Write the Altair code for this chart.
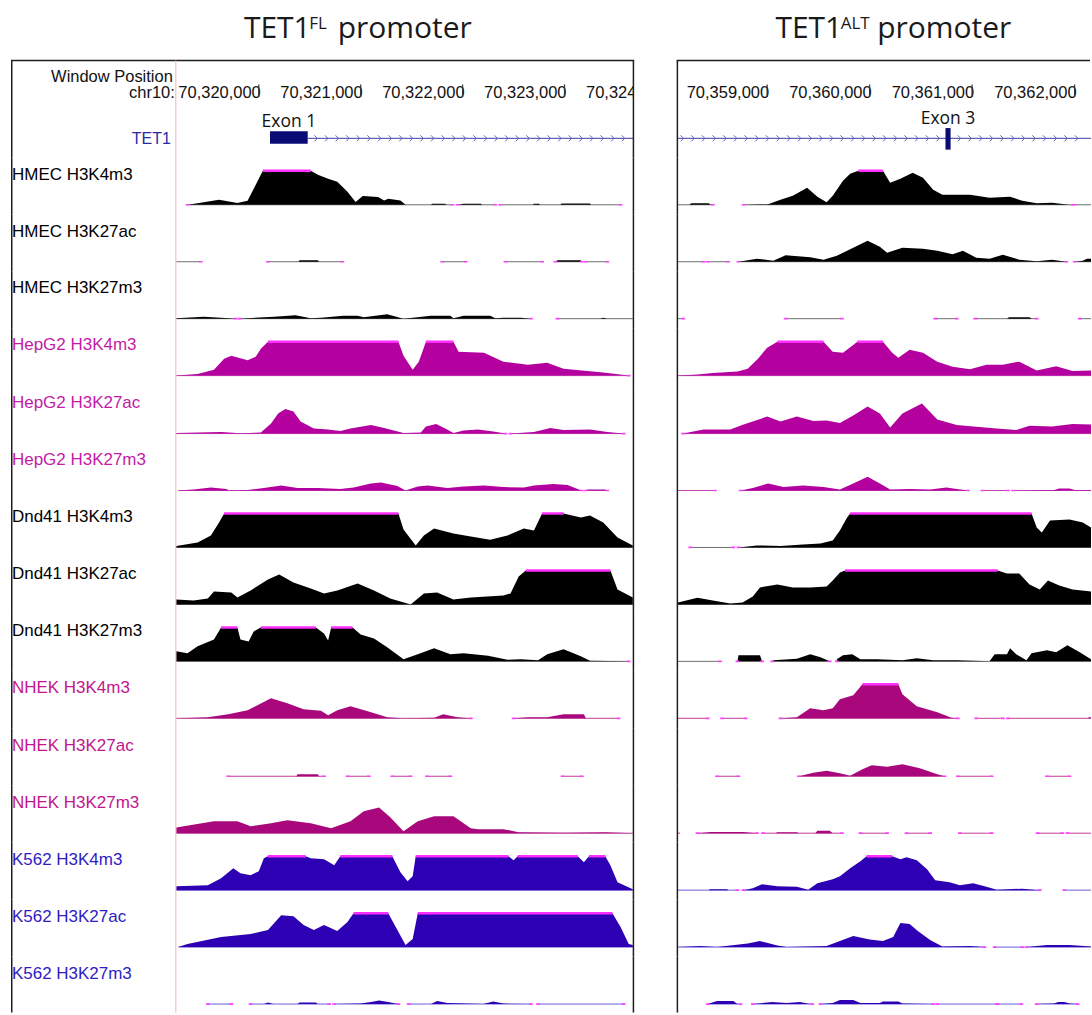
import altair as alt
import pandas as pd

# ---------------- data ----------------
FL_BASE = 70320000
ALT_BASE = 70359000
FL_DOMAIN_KB = [-0.814, 3.676]
ALT_DOMAIN_KB = [-0.876, 3.16]
FL_TICKS = [70320000, 70321000, 70322000, 70323000, 70324000]
ALT_TICKS = [70359000, 70360000, 70361000, 70362000]
FL_EXON = [70320110, 70320480]
ALT_EXON = [70360740, 70360790]
FL_EXON_NAME = "Exon 1"
ALT_EXON_NAME = "Exon 3"
GENE_NAME = "TET1"
CHROM = "chr10:"

TRACK_NAMES = ["HMEC H3K4m3", "HMEC H3K27ac", "HMEC H3K27m3",
               "HepG2 H3K4m3", "HepG2 H3K27ac", "HepG2 H3K27m3",
               "Dnd41 H3K4m3", "Dnd41 H3K27ac", "Dnd41 H3K27m3",
               "NHEK H3K4m3", "NHEK H3K27ac", "NHEK H3K27m3",
               "K562 H3K4m3", "K562 H3K27ac", "K562 H3K27m3"]

CLIP = 34  # signal level at which the UCSC track saturates

# TET1-FL promoter window: segments of (kb from 70,320,000, signal)
FL_HMEC_K4 = [
    [(-0.70, 0), (-0.57, 2), (-0.39, 5), (-0.21, 1.7), (-0.11, 4), (-0.01, 24), (0.04, 34), (0.51, 34), (0.58, 30),
     (0.68, 26), (0.77, 23), (0.87, 13), (0.95, 2.7), (1.02, 8.7), (1.17, 7.7), (1.23, 4.3), (1.27, 6), (1.39, 4.3),
     (1.44, 0), (1.69, 0), (1.70, 1), (1.83, 1), (1.84, 0), (1.90, 0)],
    [(1.95, 0), (2.01, 1), (2.18, 1), (2.19, 0), (2.32, 0)],
    [(2.37, 0), (2.69, 0), (2.70, 1), (2.75, 1), (2.76, 0), (2.96, 0), (2.97, 1.3), (3.25, 1.3), (3.26, 0), (3.55, 0)],
]
FL_HMEC_K27AC = [
    [(-0.81, 0), (-0.57, 0)],
    [(0.09, 0), (0.39, 0), (0.40, 1.5), (0.58, 1.5), (0.59, 0), (0.82, 0)],
    [(1.80, 0), (2.03, 0)],
    [(2.42, 0), (2.78, 0)],
    [(2.91, 0), (2.93, 1.5), (3.16, 1.5), (3.17, 0)],
    [(3.21, 0), (3.42, 0)],
]
FL_HMEC_K27ME3 = [
    [(-0.81, 0.5), (-0.54, 2), (-0.37, 1), (-0.23, 0)],
    [(-0.19, 0), (0.15, 2), (0.36, 3.5), (0.51, 0.5), (0.61, 1), (0.83, 3), (0.97, 3), (1.03, 1.5), (1.26, 4.5),
     (1.42, 0), (1.69, 3), (1.88, 3), (1.91, 0.5), (2.01, 3), (2.27, 3), (2.32, 0.5), (2.40, 1), (2.57, 1), (2.67, 0)],
    [(2.93, 0), (3.35, 0), (3.38, 1), (3.42, 0), (3.67, 0)],
]
FL_HEPG2_K4 = [
    [(-0.81, 0), (-0.60, 1.5), (-0.44, 6), (-0.34, 17), (-0.27, 20), (-0.11, 15.5), (-0.03, 19), (0.02, 27),
     (0.09, 34), (1.37, 34), (1.42, 20), (1.51, 6), (1.57, 14), (1.64, 34), (1.91, 34), (1.96, 24), (2.21, 23),
     (2.40, 14), (2.64, 11), (2.83, 13), (2.99, 7), (3.38, 3), (3.63, 0)],
]
FL_HEPG2_K27AC = [
    [(-0.81, 0.5), (-0.37, 1.5), (-0.18, 0.3), (0.02, 1), (0.12, 10), (0.19, 20), (0.26, 24.7), (0.34, 22),
     (0.41, 12), (0.54, 5), (0.68, 4), (0.80, 2.5), (0.90, 5), (1.10, 8.7), (1.23, 5.5), (1.42, 0.5), (1.59, 1),
     (1.64, 7), (1.74, 9.7), (1.83, 5), (1.91, 0.5), (2.01, 3), (2.15, 4), (2.30, 2), (2.42, 0)],
    [(2.47, 0), (2.70, 1.5), (2.86, 5.5), (2.99, 3.5), (3.25, 4), (3.42, 1.5), (3.58, 0)],
]
FL_HEPG2_K27ME3 = [
    [(-0.79, 0), (-0.64, 1), (-0.47, 3), (-0.32, 1.5), (-0.29, 0), (-0.11, 0.5), (0.05, 2.5), (0.22, 5), (0.38, 2.5),
     (0.58, 2.5), (0.80, 1.5), (0.93, 3), (1.10, 7), (1.20, 8), (1.36, 4.5), (1.44, 0), (1.56, 4), (1.66, 5),
     (1.85, 2.5), (2.01, 4), (2.21, 5), (2.40, 3.5), (2.60, 3), (2.70, 5), (2.89, 6.5), (3.03, 5.5), (3.14, 1),
     (3.17, 0)],
    [(3.21, 0), (3.22, 1), (3.40, 1), (3.42, 0)],
]
FL_DND41_K4 = [
    [(-0.81, 1.5), (-0.60, 5), (-0.47, 12), (-0.39, 25), (-0.34, 34), (1.37, 34), (1.42, 18), (1.54, 2), (1.62, 12),
     (1.72, 19), (1.91, 14), (2.08, 11), (2.27, 7.7), (2.44, 12), (2.60, 19), (2.70, 17), (2.78, 34), (2.99, 34),
     (3.16, 30), (3.25, 32), (3.38, 25), (3.52, 10), (3.67, 2)],
]
FL_DND41_K27AC = [
    [(-0.81, 5), (-0.64, 4), (-0.50, 6), (-0.44, 13), (-0.27, 12), (-0.21, 7), (-0.08, 14), (0.09, 25), (0.20, 30),
     (0.34, 22), (0.51, 16), (0.64, 11), (0.77, 14), (0.97, 21), (1.13, 14), (1.29, 6), (1.49, 0), (1.62, 11),
     (1.75, 12), (1.91, 5), (2.08, 7), (2.40, 9), (2.47, 11), (2.55, 28), (2.62, 34), (3.45, 34), (3.52, 15),
     (3.67, 7)],
]
FL_DND41_K27ME3 = [
    [(-0.81, 10), (-0.70, 8), (-0.60, 15), (-0.44, 22), (-0.37, 34), (-0.21, 34), (-0.18, 22), (-0.10, 20),
     (-0.05, 30), (0.02, 34), (0.56, 34), (0.64, 28), (0.68, 21), (0.71, 34), (0.92, 34), (1.00, 27), (1.13, 23),
     (1.26, 14), (1.42, 2), (1.56, 7), (1.72, 13), (1.88, 7), (2.01, 8), (2.25, 5.5), (2.44, 1.5), (2.57, 2),
     (2.74, 1), (2.83, 7), (2.99, 12), (3.16, 5), (3.25, 0.5), (3.63, 0)],
]
FL_NHEK_K4 = [
    [(-0.81, 0), (-0.50, 1), (-0.30, 4), (-0.11, 8), (0.12, 20), (0.28, 15), (0.44, 9), (0.61, 7.5), (0.68, 3),
     (0.77, 8), (0.90, 12), (1.07, 7), (1.26, 1), (1.42, 0), (1.72, 0.5), (1.81, 4), (1.95, 1), (2.08, 0)],
    [(2.50, 0), (2.64, 1), (2.83, 1), (2.99, 4), (3.19, 4), (3.21, 0), (3.53, 0)],
]
FL_NHEK_K27AC = [
    [(-0.30, 0), (0.37, 0), (0.38, 2), (0.58, 2), (0.59, 0), (0.64, 0)],
    [(0.87, 0), (1.08, 0)],
    [(1.31, 0), (1.49, 0)],
    [(1.65, 0), (1.88, 0)],
    [(2.98, 0), (3.17, 0)],
]
FL_NHEK_K27ME3 = [
    [(-0.81, 5.6), (-0.44, 12), (-0.21, 12), (-0.08, 7), (0.12, 10), (0.28, 13), (0.51, 10), (0.71, 5), (0.90, 12),
     (1.03, 22), (1.18, 25.6), (1.29, 16), (1.42, 2), (1.56, 12), (1.72, 17), (1.91, 17), (2.08, 5), (2.15, 4),
     (2.40, 4), (2.55, 1), (3.00, 0.5), (3.40, 1), (3.67, 0)],
]
FL_K562_K4 = [
    [(-0.81, 4), (-0.50, 5), (-0.37, 12), (-0.25, 22), (-0.18, 17), (-0.08, 15), (0.00, 19), (0.05, 32), (0.09, 34),
     (0.46, 34), (0.51, 32), (0.64, 31), (0.74, 25), (0.80, 34), (1.31, 34), (1.39, 18), (1.46, 9), (1.51, 14),
     (1.54, 34), (2.45, 34), (2.50, 30), (2.54, 34), (3.13, 34), (3.19, 28), (3.24, 34), (3.40, 34), (3.45, 25),
     (3.52, 8), (3.67, 1)],
]
FL_K562_K27AC = [
    [(-0.79, 0), (-0.70, 3), (-0.37, 10), (-0.08, 13), (0.09, 17), (0.22, 32), (0.34, 31), (0.44, 22), (0.54, 17),
     (0.64, 22), (0.77, 16), (0.87, 25), (0.93, 34), (1.27, 34), (1.36, 17), (1.44, 2), (1.51, 8), (1.56, 34),
     (3.47, 34), (3.55, 20), (3.63, 3), (3.67, 2)],
]
FL_K562_K27ME3 = [
    [(-0.50, 0), (-0.27, 0)],
    [(-0.08, 0), (0.05, 0), (0.09, 1.5), (0.14, 0), (0.38, 0), (0.40, 1.5), (0.56, 1.5), (0.58, 0), (0.69, 0)],
    [(0.74, 0), (1.00, 0.5), (1.10, 2), (1.18, 3.5), (1.27, 2), (1.34, 0.5), (1.37, 0)],
    [(1.47, 0), (1.69, 0), (1.75, 3), (1.85, 1), (2.20, 0), (2.30, 2.5), (2.40, 0.5), (2.67, 0)],
    [(2.74, 0), (3.58, 0)],
]

# TET1-ALT promoter window: segments of (kb from 70,359,000, signal)
ALT_HMEC_K4 = [
    [(-0.88, 0), (-0.76, 0), (-0.74, 1.5), (-0.57, 1.5), (-0.55, 0), (-0.53, 0)],
    [(-0.23, 0), (0.01, 0.5), (0.13, 5), (0.25, 9), (0.39, 17), (0.49, 8), (0.58, 2.5), (0.64, 9), (0.74, 24),
     (0.81, 31), (0.89, 34), (1.13, 34), (1.20, 22), (1.30, 26), (1.42, 32), (1.52, 27), (1.62, 15), (1.71, 10),
     (1.98, 10), (2.17, 7), (2.37, 8), (2.49, 4), (2.63, 1.5), (2.78, 2), (2.95, 0), (2.98, 0)],
    [(3.00, 0), (3.16, 0)],
]
ALT_HMEC_K27AC = [
    [(-0.88, 0), (-0.62, 0)],
    [(-0.58, 0), (-0.38, 0)],
    [(-0.28, 0), (-0.10, 3), (0.06, 1), (0.18, 6.5), (0.42, 4.5), (0.55, 2), (0.68, 6), (0.84, 14), (0.98, 21),
     (1.10, 15), (1.17, 9), (1.32, 14), (1.52, 13), (1.66, 11), (1.81, 7.5), (1.91, 11), (2.04, 4), (2.17, 3),
     (2.30, 7), (2.46, 2), (2.63, 0.5), (2.78, 2), (2.92, 0)],
    [(3.00, 0), (3.08, 1), (3.12, 3), (3.16, 3)],
]
ALT_HMEC_K27ME3 = [
    [(-0.88, 0), (-0.82, 0)],
    [(0.18, 0), (0.73, 0)],
    [(1.64, 0), (1.85, 0)],
    [(2.03, 0), (2.34, 0), (2.36, 1.5), (2.56, 1.5), (2.58, 0), (2.63, 0)],
    [(3.05, 0), (3.16, 0)],
]
ALT_HEPG2_K4 = [
    [(-0.88, 0), (-0.68, 1), (-0.53, 2.5), (-0.29, 4), (-0.19, 7), (-0.09, 17), (0.00, 28), (0.10, 34), (0.55, 34),
     (0.64, 24), (0.74, 23), (0.83, 30), (0.88, 34), (1.13, 34), (1.22, 23), (1.28, 18), (1.39, 26), (1.52, 23),
     (1.66, 14), (1.81, 9), (1.98, 6.5), (2.14, 11), (2.30, 11), (2.46, 14), (2.63, 5), (2.82, 9.5), (2.98, 4.5),
     (3.16, 5)],
]
ALT_HEPG2_K27AC = [
    [(-0.82, 0), (-0.62, 4), (-0.36, 4), (-0.23, 9), (0.00, 17), (0.13, 12), (0.29, 17), (0.45, 12.7), (0.58, 13),
     (0.71, 10.7), (0.84, 18), (0.98, 27), (1.10, 20), (1.20, 6), (1.32, 20), (1.51, 30), (1.66, 14), (1.85, 8.7),
     (2.04, 6.7), (2.24, 5), (2.43, 3.5), (2.56, 7.7), (2.78, 7), (2.98, 9.7), (3.16, 9)],
]
ALT_HEPG2_K27ME3 = [
    [(-0.88, 0), (-0.51, 0)],
    [(-0.26, 0), (-0.14, 2.5), (0.01, 7), (0.16, 3.5), (0.35, 5), (0.55, 3.5), (0.71, 1), (0.84, 7), (0.98, 13.7),
     (1.10, 7), (1.20, 1), (1.39, 1.5), (1.59, 1), (1.75, 3), (1.85, 1.5), (1.96, 0)],
    [(2.10, 0), (2.35, 0)],
    [(2.40, 0), (2.80, 0.5), (2.85, 2), (2.95, 2), (3.00, 0.5), (3.16, 0.5)],
]
ALT_DND41_K4 = [
    [(-0.75, 0), (-0.33, 0)],
    [(-0.28, 0), (-0.10, 2), (0.13, 1.5), (0.35, 3), (0.52, 4), (0.64, 7), (0.71, 17), (0.78, 30), (0.81, 34),
     (2.58, 34), (2.63, 20), (2.68, 15), (2.76, 27), (2.95, 28), (3.08, 25), (3.16, 20)],
]
ALT_DND41_K27AC = [
    [(-0.87, 2), (-0.68, 6.7), (-0.53, 4), (-0.36, 1), (-0.24, 2), (-0.14, 8), (-0.07, 17), (0.10, 20), (0.25, 17),
     (0.42, 17), (0.58, 18), (0.64, 24), (0.71, 32), (0.76, 34), (2.25, 34), (2.34, 31), (2.46, 31), (2.56, 20),
     (2.66, 15), (2.74, 24), (2.85, 19), (2.98, 15), (3.16, 13)],
]
ALT_DND41_K27ME3 = [
    [(-0.88, 0), (-0.46, 0)],
    [(-0.29, 0), (-0.28, 6), (-0.07, 6), (-0.05, 0)],
    [(0.05, 0), (0.06, 1), (0.29, 2.5), (0.42, 7), (0.52, 4), (0.61, 0)],
    [(0.68, 2), (0.74, 6), (0.83, 7), (0.91, 2), (1.07, 2), (1.32, 1), (1.46, 3), (1.62, 1), (1.85, 1), (2.17, 0),
     (2.22, 7), (2.34, 7), (2.37, 13), (2.43, 7), (2.53, 1), (2.58, 8), (2.73, 11), (2.82, 9), (2.93, 16),
     (3.05, 9), (3.16, 2)],
]
ALT_NHEK_K4 = [
    [(-0.88, 0), (-0.58, 0)],
    [(-0.44, 0), (-0.21, 0)],
    [(0.13, 0), (0.29, 1), (0.42, 10), (0.55, 8), (0.64, 10), (0.71, 19), (0.84, 23), (0.93, 34), (1.28, 34),
     (1.32, 24), (1.46, 12), (1.66, 6), (1.80, 0.5), (1.86, 0)],
    [(2.04, 0), (2.30, 0)],
    [(2.35, 0), (3.13, 0), (3.14, 1), (3.16, 1)],
]
ALT_NHEK_K27AC = [
    [(-0.49, 0), (-0.28, 0)],
    [(0.31, 0), (0.45, 3.5), (0.58, 5.5), (0.71, 3), (0.81, 0.5), (0.93, 7), (1.02, 11), (1.17, 9.5), (1.32, 12),
     (1.49, 8), (1.66, 2), (1.73, 0)],
    [(1.86, 0), (2.19, 0)],
    [(2.73, 0), (2.95, 0)],
]
ALT_NHEK_K27ME3 = [
    [(-0.88, 0), (-0.85, 0)],
    [(-0.68, 0), (-0.55, 1.3), (-0.23, 1.3), (-0.10, 0)],
    [(-0.04, 0), (0.08, 0), (0.10, 1), (0.29, 1), (0.31, 0), (0.47, 0), (0.49, 2.5), (0.61, 2.5), (0.64, 0),
     (0.73, 0)],
    [(0.91, 0), (1.17, 0)],
    [(1.36, 0), (1.59, 0)],
    [(1.88, 0), (2.19, 0)],
    [(2.64, 0), (2.88, 0)],
    [(2.93, 0), (3.16, 0)],
]
ALT_K562_K4 = [
    [(-0.87, 0), (-0.57, 0), (-0.56, 1), (-0.39, 1), (-0.38, 0), (-0.29, 0)],
    [(-0.23, 0), (-0.14, 2), (-0.05, 6), (0.10, 4), (0.29, 3.5), (0.40, 0.5), (0.49, 7), (0.64, 11), (0.71, 14),
     (0.81, 22), (0.91, 29), (0.97, 34), (1.22, 34), (1.30, 31), (1.36, 33), (1.46, 30), (1.56, 21), (1.64, 10),
     (1.78, 8), (1.88, 5), (2.01, 7), (2.14, 3.5), (2.24, 0.5), (2.49, 1.5), (2.66, 0)],
    [(2.90, 0), (3.16, 0)],
]
ALT_K562_K27AC = [
    [(-0.87, 0), (-0.65, 1), (-0.49, 0), (-0.19, 3.5), (-0.07, 6), (0.10, 1.5), (0.19, 0), (0.58, 1), (0.71, 6),
     (0.84, 11), (1.00, 7.7), (1.13, 6), (1.23, 10), (1.30, 24), (1.39, 23), (1.47, 16), (1.59, 7), (1.71, 0.5),
     (1.98, 1), (2.12, 0)],
    [(2.22, 0), (2.49, 0)],
    [(2.53, 0), (2.73, 2), (2.95, 2), (3.16, 0.5)],
]
ALT_K562_K27ME3 = [
    [(-0.58, 0), (-0.49, 3), (-0.33, 3), (-0.29, 0), (-0.26, 0)],
    [(-0.14, 0), (0.05, 2), (0.19, 1), (0.32, 2), (0.42, 0), (0.44, 0)],
    [(0.52, 0), (0.64, 1), (0.71, 4), (0.84, 4), (0.91, 1), (1.10, 1), (1.13, 2.5), (1.28, 2.5), (1.32, 0.5),
     (1.62, 0)],
    [(1.66, 0), (2.24, 0)],
    [(2.25, 0), (2.48, 0)],
    [(2.63, 0), (2.80, 0.5), (2.84, 2), (2.90, 2), (2.95, 0.5), (3.03, 0)],
]

FL_TRACKS = [FL_HMEC_K4, FL_HMEC_K27AC, FL_HMEC_K27ME3, FL_HEPG2_K4, FL_HEPG2_K27AC, FL_HEPG2_K27ME3,
             FL_DND41_K4, FL_DND41_K27AC, FL_DND41_K27ME3, FL_NHEK_K4, FL_NHEK_K27AC, FL_NHEK_K27ME3,
             FL_K562_K4, FL_K562_K27AC, FL_K562_K27ME3]
ALT_TRACKS = [ALT_HMEC_K4, ALT_HMEC_K27AC, ALT_HMEC_K27ME3, ALT_HEPG2_K4, ALT_HEPG2_K27AC, ALT_HEPG2_K27ME3,
              ALT_DND41_K4, ALT_DND41_K27AC, ALT_DND41_K27ME3, ALT_NHEK_K4, ALT_NHEK_K27AC, ALT_NHEK_K27ME3,
              ALT_K562_K4, ALT_K562_K27AC, ALT_K562_K27ME3]

# ---------------- styles / layout ----------------
FONT = "Liberation Sans"
TFONT = "Open Sans"
FILL = {"HMEC": "#000000", "HepG2": "#B4009E", "Dnd41": "#000000", "NHEK": "#A9087C", "K562": "#2D00B4"}
ZERO_LINE = {"HMEC": "#6f6f6f", "HepG2": "#C040B0", "Dnd41": "#6f6f6f", "NHEK": "#C03C98", "K562": "#6A5CD8"}
LABEL_COL = {"HMEC": "#000000", "HepG2": "#C21BA6", "Dnd41": "#000000", "NHEK": "#C2158E", "K562": "#2F1BC4"}
CLIP_COL = "#FF2EFF"
DOT_COL = "#FF40FF"
FRAME = "#1e1e1e"
PINK = "#F4B0B0"
GENE_LINE = "#6262B8"
EXON_COL = "#0B0B74"
TET1_COL = "#2B2BA0"
DOT_SHAPE = "M-1,-0.45L1,-0.45L1,0.45L-1,0.45Z"
CHEV = "M-0.5,-1L0.5,0L-0.5,1"

HEAD_H = 157
TRACK_HEIGHTS = [57, 57, 57, 58, 57, 57, 57, 57, 57, 58, 57, 57, 57, 57, 56]
BASE_FROM_TOP = 47.5
FL_W = 458
ALT_W = 414
ONE = pd.DataFrame({"k": [0]})


def kb_scale(dom):
    return alt.Scale(domain=dom, nice=False, zero=False)


def vrule(x, y0, y1, color, sw):
    return alt.Chart(ONE).mark_rule(color=color, strokeWidth=sw).encode(
        x=alt.value(x), y=alt.value(y0), y2=alt.value(y1))


def hrule(x0, x1, y, color, sw):
    return alt.Chart(ONE).mark_rule(color=color, strokeWidth=sw).encode(
        x=alt.value(x0), x2=alt.value(x1), y=alt.value(y))


def text(t, x, y, size, color, align="left", font=FONT):
    return alt.Chart(pd.DataFrame({"t": [t]})).mark_text(
        align=align, baseline="alphabetic", font=font, fontSize=size, color=color
    ).encode(x=alt.value(x), y=alt.value(y), text="t:N")


def track(segs, idx, dom, width, is_left, height):
    ydom = [BASE_FROM_TOP - height, BASE_FROM_TOP]
    name = TRACK_NAMES[idx]
    cell = name.split()[0]
    rows, spans, runs, ends = [], [], [], []
    for i, seg in enumerate(segs):
        for kb, v in seg:
            rows.append({"kb": kb, "v": v, "z": 0, "seg": i})
        spans.append({"kb": seg[0][0], "kb2": seg[-1][0], "v": 0})
        for kb in (seg[0][0], seg[-1][0]):
            if dom[0] + 0.03 < kb < dom[1] - 0.03:
                ends.append({"kb": kb, "v": 0})
        run = None
        for kb, v in seg:
            if v >= CLIP:
                run = [kb, kb] if run is None else [run[0], kb]
            elif run is not None:
                runs.append({"kb": run[0], "kb2": run[1], "v": CLIP})
                run = None
        if run is not None:
            runs.append({"kb": run[0], "kb2": run[1], "v": CLIP})

    X = alt.X("kb:Q", scale=kb_scale(dom), axis=None)
    Y = alt.Y("v:Q", scale=alt.Scale(domain=ydom, nice=False, zero=False), axis=None)
    layers = [
        alt.Chart(pd.DataFrame(spans)).mark_rule(color=ZERO_LINE[cell], strokeWidth=1, clip=True).encode(
            x=X, x2="kb2:Q", y=Y),
        alt.Chart(pd.DataFrame(rows)).mark_area(color=FILL[cell], interpolate="linear", clip=True).encode(
            x=X, y=Y, y2="z:Q", detail="seg:N"),
    ]
    if runs:
        layers.append(alt.Chart(pd.DataFrame(runs)).mark_rule(color=CLIP_COL, strokeWidth=2.5, clip=True).encode(
            x=X, x2="kb2:Q", y=Y))
    if ends:
        layers.append(alt.Chart(pd.DataFrame(ends)).mark_point(
            shape=DOT_SHAPE, filled=True, size=14, color=DOT_COL, opacity=1, strokeWidth=0, clip=True
        ).encode(x=X, y=Y))
    if is_left:
        layers.append(text(name, -164, 22.3, 17, LABEL_COL[cell]))
        layers += [vrule(-164.25, 0, height, FRAME, 1.5), vrule(0, 0, height, PINK, 1),
                   vrule(width, 0, height, FRAME, 1.5)]
    else:
        layers.append(vrule(0, 0, height, FRAME, 1.5))
    return alt.layer(*layers).properties(width=width, height=height)


def header(is_left, dom, width, base, ticks, exon, exon_name, exon_label_y, exon_y, chev_start, chev_stop,
           title_sup, title_x, sup_x, prom_x):
    X = alt.X("kb:Q", scale=kb_scale(dom), axis=None)
    tick_df = pd.DataFrame({"kb": [(t - base) / 1000 for t in ticks], "t": [f"{t:,}" for t in ticks]})
    ex0, ex1 = (exon[0] - base) / 1000, (exon[1] - base) / 1000
    line_start = ex1 if is_left else dom[0]
    layers = [
        hrule(1, 5, 0.5, "white", 1),
        text(GENE_NAME, title_x, 38, 30, "#1a1a1a", align="right", font=TFONT),
        text(title_sup, sup_x, 29, 17, "#1a1a1a", align="left", font=TFONT),
        text("promoter", prom_x, 38, 30, "#1a1a1a", align="left", font=TFONT),
        alt.Chart(tick_df).mark_text(align="right", baseline="alphabetic", dx=2, font=FONT, fontSize=16.5,
                                     color="#111111", clip=True).encode(x=X, y=alt.value(97.5), text="t:N"),
        alt.Chart(tick_df).mark_rule(color="#333333", strokeWidth=1.2, clip=True).encode(
            x=X, y=alt.value(84), y2=alt.value(96.5)),
        alt.Chart(pd.DataFrame({"kb": [line_start], "kb2": [dom[1]]})).mark_rule(
            color=GENE_LINE, strokeWidth=1.2).encode(x=X, x2="kb2:Q", y=alt.value(138)),
        alt.Chart(alt.sequence(chev_start, chev_stop, 0.104, as_="kb")).mark_point(
            shape=CHEV, filled=False, size=36, color=GENE_LINE, strokeWidth=1, opacity=1).encode(
            x=X, y=alt.value(138)),
        alt.Chart(pd.DataFrame({"kb": [ex0], "kb2": [ex1]})).mark_rect(color=EXON_COL).encode(
            x=X, x2="kb2:Q", y=alt.value(exon_y[0]), y2=alt.value(exon_y[1])),
        alt.Chart(pd.DataFrame({"kb": [(ex0 + ex1) / 2], "t": [exon_name]})).mark_text(
            align="center", baseline="alphabetic", font=TFONT, fontSize=17.5, color="#111111").encode(
            x=X, y=alt.value(exon_label_y), text="t:N"),
    ]
    if is_left:
        layers += [
            hrule(-165, width + 0.75, 60, FRAME, 1.5),
            vrule(-164.25, 60, HEAD_H, FRAME, 1.5),
            vrule(width, 60, HEAD_H, FRAME, 1.5),
            vrule(0, 60, HEAD_H, PINK, 1),
            text("Window Position", -3, 81.5, 16.5, "#111111", align="right"),
            text(CHROM, -1, 97.5, 16.5, "#111111", align="right"),
            text(GENE_NAME, -5, 143.3, 16, TET1_COL, align="right"),
        ]
    else:
        layers += [
            hrule(-0.75, width - 1, 60, FRAME, 1.5),
            vrule(0, 60, HEAD_H, FRAME, 1.5),
        ]
    return alt.layer(*layers).properties(width=width, height=HEAD_H)


def panel_cells(is_left):
    if is_left:
        dom, width, base, ticks, tracks = FL_DOMAIN_KB, FL_W, FL_BASE, FL_TICKS, FL_TRACKS
        head = header(True, dom, width, base, ticks, FL_EXON, FL_EXON_NAME, 127, (131, 143.5), 0.56, 3.67,
                      "FL", 135, 133.5, 162)
    else:
        dom, width, base, ticks, tracks = ALT_DOMAIN_KB, ALT_W, ALT_BASE, ALT_TICKS, ALT_TRACKS
        head = header(False, dom, width, base, ticks, ALT_EXON, ALT_EXON_NAME, 124, (127.7, 149.3), -0.83, 3.11,
                      "ALT", 165, 163.5, 200)
    cells = [head]
    for i, segs in enumerate(tracks):
        cells.append(track(segs, i, dom, width, is_left, TRACK_HEIGHTS[i]))
    return cells


left_cells = panel_cells(True)
right_cells = panel_cells(False)
grid = []
for a, b in zip(left_cells, right_cells):
    grid += [a, b]

chart = alt.concat(
    *grid, columns=2, spacing={"row": 0, "column": 44}, bounds="flush", align="each"
).resolve_scale(
    x="independent", y="independent"
).properties(
    padding={"left": 10, "top": 0, "right": 0, "bottom": 0}
).configure_view(strokeWidth=0)

chart.save("out.html", embed_options={"renderer": "svg", "actions": False})
